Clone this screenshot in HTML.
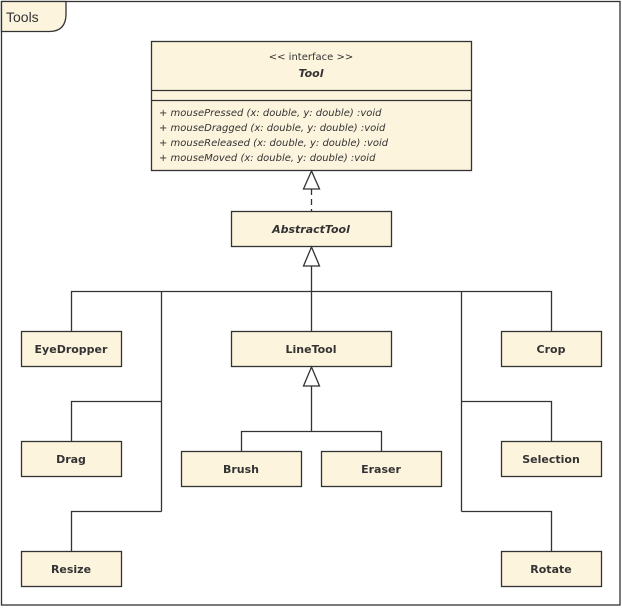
<!DOCTYPE html>
<html><head><meta charset="utf-8"><style>
body{margin:0;background:#fff}
svg text{font-family:"DejaVu Sans","Liberation Sans",sans-serif;fill:#333}
</style></head><body>
<svg width="622" height="607" xmlns="http://www.w3.org/2000/svg">
<g stroke="#333" stroke-width="1.3" fill="none">
<rect x="1.5" y="1.5" width="618.5" height="603.5"/>
<path d="M1.5 31.5 H50 Q66 31 66 14 V1.5 H1.5Z" fill="#fdf4de"/>
<rect x="151.5" y="41.5" width="320" height="129" fill="#fdf4de"/>
<line x1="151.5" y1="90.5" x2="471.5" y2="90.5"/>
<line x1="151.5" y1="100.5" x2="471.5" y2="100.5"/>
<rect x="231.5" y="211.5" width="160" height="35" fill="#fdf4de"/>
<rect x="21.5" y="331.5" width="100" height="35" fill="#fdf4de"/>
<rect x="21.5" y="441.5" width="100" height="35" fill="#fdf4de"/>
<rect x="21.5" y="551.5" width="100" height="35" fill="#fdf4de"/>
<rect x="231.5" y="331.5" width="160" height="35" fill="#fdf4de"/>
<rect x="181.5" y="451.5" width="120" height="35" fill="#fdf4de"/>
<rect x="321.5" y="451.5" width="120" height="35" fill="#fdf4de"/>
<rect x="501.5" y="331.5" width="100" height="35" fill="#fdf4de"/>
<rect x="501.5" y="441.5" width="100" height="35" fill="#fdf4de"/>
<rect x="501.5" y="551.5" width="100" height="35" fill="#fdf4de"/>
<line x1="311.5" y1="189" x2="311.5" y2="211" stroke-dasharray="6,4"/>
<polygon points="311.5,171 303.5,189 319.5,189" fill="#fff"/>
<polygon points="311.5,247 303.5,266 319.5,266" fill="#fff"/>
<path d="M311.5 266 V331 M71.5 331 V291.5 H551.5 V331 M161.5 291.5 V511.5 M71.5 441 V401.5 H161.5 M71.5 551 V511.5 H161.5 M461.5 291.5 V511.5 M551.5 441 V401.5 H461.5 M551.5 551 V511.5 H461.5"/>
<polygon points="311.5,367 303.5,386 319.5,386" fill="#fff"/>
<path d="M311.5 386 V431.5 M241.5 451 V431.5 H381.5 V451"/>
</g>
<text x="6" y="22" font-size="14" font-family="Liberation Sans" style="font-family:'Liberation Sans',sans-serif">Tools</text>
<g text-anchor="middle">
<text x="311" y="60" font-size="10">&lt;&lt; interface &gt;&gt;</text>
<text x="311" y="77" font-size="11" font-weight="bold" font-style="italic">Tool</text>
<text x="311" y="233" font-size="11" font-weight="bold" font-style="italic">AbstractTool</text>
<g font-size="11" font-weight="bold">
<text x="71" y="353">EyeDropper</text>
<text x="71" y="463">Drag</text>
<text x="71" y="573">Resize</text>
<text x="311" y="353">LineTool</text>
<text x="241" y="473">Brush</text>
<text x="381" y="473">Eraser</text>
<text x="551" y="353">Crop</text>
<text x="551" y="463">Selection</text>
<text x="551" y="573">Rotate</text>
</g></g>
<g font-size="10" font-style="italic">
<text x="159" y="116">+ mousePressed (x: double, y: double) :void</text>
<text x="159" y="131">+ mouseDragged (x: double, y: double) :void</text>
<text x="159" y="146">+ mouseReleased (x: double, y: double) :void</text>
<text x="159" y="161">+ mouseMoved (x: double, y: double) :void</text>
</g>
</svg>
</body></html>
